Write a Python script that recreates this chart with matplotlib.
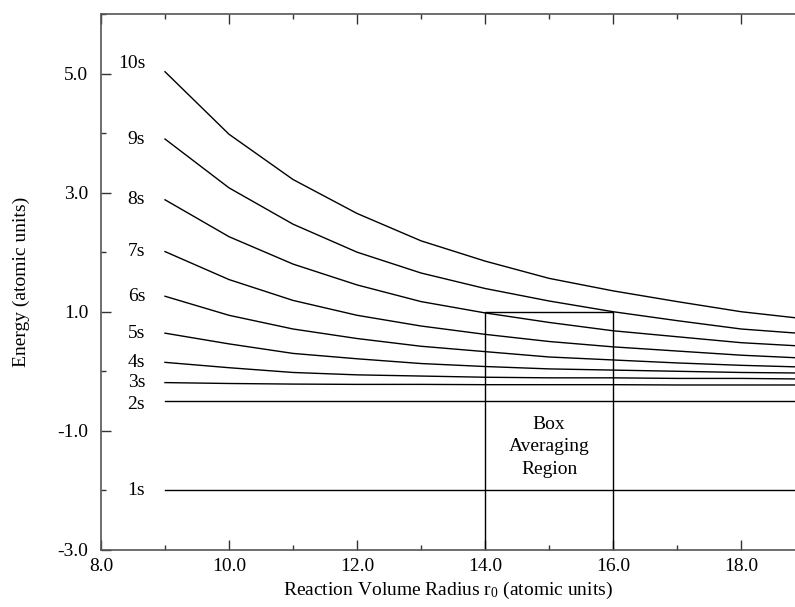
import matplotlib
matplotlib.use("Agg")
import matplotlib.pyplot as plt
from matplotlib.ticker import MultipleLocator, FormatStrFormatter

plt.rcParams["font.family"] = ["Liberation Serif", "DejaVu Serif"]
plt.rcParams["mathtext.fontset"] = "custom"
plt.rcParams["mathtext.rm"] = "Liberation Serif"
plt.rcParams["mathtext.it"] = "Liberation Serif"

# Reaction volume radius r0 (atomic units)
radius = [9, 10, 11, 12, 13, 14, 15, 16, 17, 18, 19]

# Energy levels of the confined s states (atomic units)
e_10s = [5.03, 3.98, 3.22, 2.65, 2.19, 1.85, 1.56, 1.35, 1.17, 1.00, 0.88]
e_9s = [3.90, 3.08, 2.47, 2.00, 1.65, 1.39, 1.18, 1.00, 0.85, 0.71, 0.63]
e_8s = [2.88, 2.26, 1.80, 1.45, 1.17, 0.98, 0.82, 0.68, 0.58, 0.48, 0.42]
e_7s = [2.01, 1.54, 1.19, 0.94, 0.76, 0.62, 0.50, 0.41, 0.34, 0.27, 0.22]
e_6s = [1.26, 0.94, 0.71, 0.55, 0.42, 0.33, 0.24, 0.19, 0.14, 0.10, 0.07]
e_5s = [0.64, 0.46, 0.30, 0.21, 0.13, 0.08, 0.04, 0.02, 0.00, -0.02, -0.03]
e_4s = [0.15, 0.06, -0.02, -0.06, -0.08, -0.10, -0.11, -0.11, -0.12, -0.12, -0.13]
e_3s = [-0.19, -0.205, -0.215, -0.22, -0.22, -0.225, -0.225, -0.225, -0.23, -0.23, -0.23]
e_2s = [-0.50, -0.50, -0.50, -0.50, -0.50, -0.50, -0.50, -0.50, -0.50, -0.50, -0.50]
e_1s = [-2.00, -2.00, -2.00, -2.00, -2.00, -2.00, -2.00, -2.00, -2.00, -2.00, -2.00]

state_names = ["10s", "9s", "8s", "7s", "6s", "5s", "4s", "3s", "2s", "1s"]
state_levels = [e_10s, e_9s, e_8s, e_7s, e_6s, e_5s, e_4s, e_3s, e_2s, e_1s]

# Box averaging region: r0 from 14 to 16, energies up to 1.0
box_r = [14.0, 16.0]
box_e_top = 1.0

FS = 14

fig = plt.figure(figsize=(7.95, 6.07), dpi=100)
ax = fig.add_axes([0.127, 0.094, 0.873, 0.883])

for name, levels in zip(state_names, state_levels):
    ax.plot(radius, levels, color="black", lw=1.0, clip_on=True)
    y_lab = levels[0] + (0.13 if name == "10s" else 0.0)
    if name == "2s":
        y_lab -= 0.05
    ax.text(8.69, y_lab, name, ha="right", va="center", fontsize=FS)

# averaging box
ax.plot([box_r[0], box_r[0], box_r[1], box_r[1]],
        [-3.0, box_e_top, box_e_top, -3.0], color="black", lw=1.0)
ax.text(sum(box_r) / 2, -1.27, "Box\nAveraging\nRegion", ha="center",
        va="center", fontsize=FS, linespacing=1.4)

ax.set_xlim(8.0, 18.84)
ax.set_ylim(-3.0, 6.0)

ax.xaxis.set_major_locator(MultipleLocator(2.0))
ax.xaxis.set_minor_locator(MultipleLocator(1.0))
ax.yaxis.set_major_locator(plt.FixedLocator([-3.0, -1.0, 1.0, 3.0, 5.0]))
ax.yaxis.set_minor_locator(MultipleLocator(1.0))
ax.xaxis.set_major_formatter(FormatStrFormatter("%.1f"))
ax.yaxis.set_major_formatter(FormatStrFormatter("%.1f"))

ax.spines["right"].set_visible(False)
for side in ("left", "top", "bottom"):
    ax.spines[side].set_color("#555555")
    ax.spines[side].set_linewidth(1.2)

ax.tick_params(which="both", direction="in", top=True, right=False,
               colors="#333333", labelcolor="black")
ax.tick_params(which="major", length=7, width=1.0, labelsize=FS)
ax.tick_params(axis="y", which="major", pad=9)
ax.tick_params(axis="x", which="major", pad=6)
ax.tick_params(which="minor", length=3.5, width=1.0)

ax.set_xlabel("Reaction Volume Radius r$_0$ (atomic units)", fontsize=FS,
              labelpad=3)
ax.set_ylabel("Energy (atomic units)", fontsize=FS, labelpad=20)

fig.savefig("out.png", dpi=100)
